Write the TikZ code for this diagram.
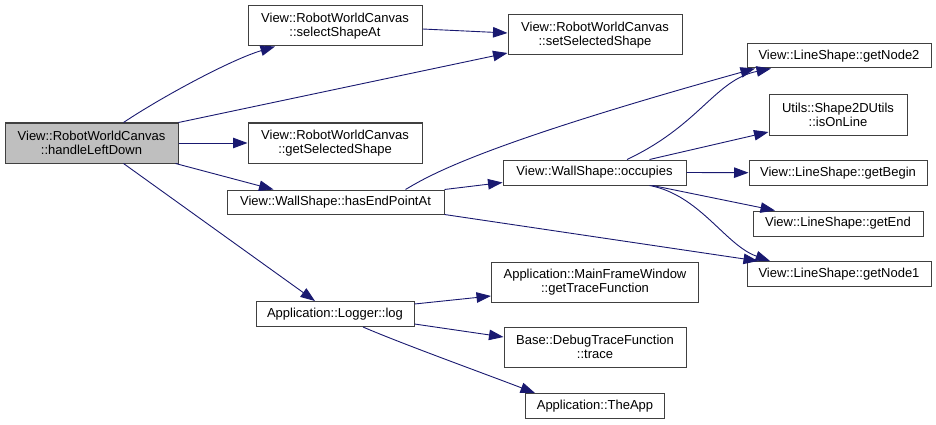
\documentclass[tikz,border=0pt]{standalone}
\usepackage{fontspec}
\setmainfont{Liberation Sans}
\usetikzlibrary{arrows.meta}
\definecolor{edgeblue}{RGB}{25,25,112}
\definecolor{boxline}{RGB}{64,64,64}
\definecolor{rootfill}{RGB}{191,191,191}
\begin{document}
\begin{tikzpicture}[x=1pt,y=-1pt,
  fn/.style={draw=boxline,line width=1pt,rectangle,inner sep=0pt,align=center,
    font=\fontsize{13}{14.5}\selectfont,fill=white},
  call/.style={draw=edgeblue,line width=0.9pt,
    -{Triangle[length=14.5pt,width=10.5pt]},fill=none},
]
\useasboundingbox (0,0) rectangle (936,425);
% nodes
\node[fn,fill=rootfill,minimum width=173pt,minimum height=40pt] (hld) at (91.5,143) {View::RobotWorldCanvas\\::handleLeftDown};
\node[fn,minimum width=174pt,minimum height=40pt] (ssa) at (335,26) {View::RobotWorldCanvas\\::selectShapeAt};
\node[fn,minimum width=174pt,minimum height=40pt] (sss) at (595,35) {View::RobotWorldCanvas\\::setSelectedShape};
\node[fn,minimum width=174pt,minimum height=40pt] (gss) at (335,143) {View::RobotWorldCanvas\\::getSelectedShape};
\node[fn,minimum width=217pt,minimum height=24pt] (hep) at (335.5,202) {View::WallShape::hasEndPointAt};
\node[fn,minimum width=158pt,minimum height=25pt] (log) at (335,314) {Application::Logger::log};
\node[fn,minimum width=183pt,minimum height=25pt] (occ) at (594.5,172.5) {View::WallShape::occupies};
\node[fn,minimum width=184pt,minimum height=24pt] (gn2) at (839,56) {View::LineShape::getNode2};
\node[fn,minimum width=138pt,minimum height=40pt] (iol) at (838,115) {Utils::Shape2DUtils\\::isOnLine};
\node[fn,minimum width=178pt,minimum height=25pt] (gb) at (838,172.7) {View::LineShape::getBegin};
\node[fn,minimum width=170pt,minimum height=25pt] (ge) at (838,223.5) {View::LineShape::getEnd};
\node[fn,minimum width=184pt,minimum height=25pt] (gn1) at (839,274) {View::LineShape::getNode1};
\node[fn,minimum width=207pt,minimum height=40pt] (gtf) at (595,282) {Application::MainFrameWindow\\::getTraceFunction};
\node[fn,minimum width=182pt,minimum height=40pt] (tr) at (595,347) {Base::DebugTraceFunction\\::trace};
\node[fn,minimum width=139pt,minimum height=25pt] (app) at (595,406) {Application::TheApp};
% edges
\draw[call] ([xshift=32pt]hld.north) .. controls (160,98) and (230,60) .. ([xshift=-60pt]ssa.south);
\draw[call] (hld.north east) -- ([yshift=-18pt]sss.west);
\draw[call] ([yshift=-3pt]ssa.east) -- ([yshift=2pt]sss.west);
\draw[call] (hld.east) -- (gss.west);
\draw[call] ([xshift=-3pt]hld.south east) -- ([xshift=-62pt]hep.north);
\draw[call] ([xshift=32pt]hld.south) -- ([xshift=-20pt]log.north);
\draw[call] ([xshift=70pt]hep.north) .. controls (430,175) and (480,145) .. ([xshift=-84pt]gn2.south);
\draw[call] (hep.north east) -- ([yshift=-10pt]occ.west);
\draw[call] (hep.south east) -- ([xshift=-81pt]gn1.north);
\draw[call] ([xshift=32.5pt]occ.north) .. controls (700,125) and (715,80) .. ([xshift=-68pt]gn2.south);
\draw[call] ([xshift=55pt]occ.north) -- ([yshift=-17pt]iol.west);
\draw[call] (occ.east) -- (gb.west);
\draw[call] ([xshift=58pt]occ.south) -- ([xshift=-63pt]ge.north);
\draw[call] ([xshift=55pt]occ.south) .. controls (700,195) and (725,245) .. ([xshift=-69pt]gn1.north);
\draw[call] ([yshift=10pt]log.east) -- ([yshift=-14pt]gtf.west);
\draw[call] ([yshift=-10pt]log.east) -- ([yshift=10pt]tr.west);
\draw[call] ([xshift=28pt]log.south) .. controls (400,343) and (480,372) .. ([xshift=-60pt]app.north);
\end{tikzpicture}
\end{document}
